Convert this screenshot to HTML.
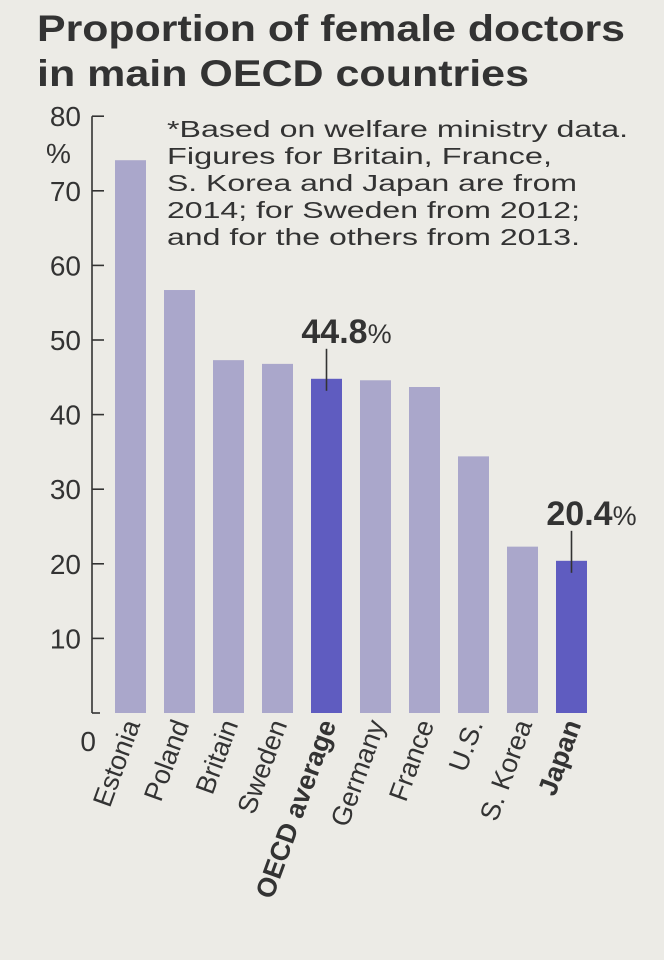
<!DOCTYPE html>
<html><head><meta charset="utf-8"><style>
html,body{margin:0;padding:0;background:#ecebe6;}
svg{display:block;font-family:"Liberation Sans",Arial,sans-serif;}
</style></head><body>
<svg id="chart" width="664" height="960" viewBox="0 0 664 960">
<rect x="0" y="0" width="664" height="960" fill="#ecebe6"/>
<text x="37" y="41" font-size="37" font-weight="bold" fill="#333" textLength="588" lengthAdjust="spacingAndGlyphs">Proportion of female doctors</text>
<text x="37" y="86" font-size="37" font-weight="bold" fill="#333" textLength="492" lengthAdjust="spacingAndGlyphs">in main OECD countries</text>
<g font-size="23" fill="#333">
<text x="167" y="137" textLength="461" lengthAdjust="spacingAndGlyphs">*Based on welfare ministry data.</text>
<text x="167" y="164" textLength="385" lengthAdjust="spacingAndGlyphs">Figures for Britain, France,</text>
<text x="167" y="191" textLength="410" lengthAdjust="spacingAndGlyphs">S. Korea and Japan are from</text>
<text x="167" y="218" textLength="413" lengthAdjust="spacingAndGlyphs">2014; for Sweden from 2012;</text>
<text x="167" y="245" textLength="413" lengthAdjust="spacingAndGlyphs">and for the others from 2013.</text>
</g>
<g id="axis"></g>
<g id="bars"></g>
<g id="labels"></g>
<g id="callouts"></g>
</svg>
<script>
const categories = ["Estonia","Poland","Britain","Sweden","OECD average","Germany","France","U.S.","S. Korea","Japan"];
const values = [74.1,56.7,47.3,46.8,44.8,44.6,43.7,34.4,22.3,20.4];
const highlighted = ["OECD average","Japan"];
const tickValues = [0,10,20,30,40,50,60,70,80];
const calloutLabels = {"OECD average":"44.8","Japan":"20.4"};

const NS="http://www.w3.org/2000/svg";
const y0=713, pxPer=7.46, xStart=115, step=49, bw=31;
const yScale=v=>y0-v*pxPer;
const xScale=i=>xStart+i*step;
function mk(tag,attrs,parent){const e=document.createElementNS(NS,tag);for(const k in attrs)e.setAttribute(k,attrs[k]);parent.appendChild(e);return e;}

const axis=document.getElementById('axis');
let ln=mk('line',{x1:92,y1:yScale(80),x2:92,y2:y0,stroke:'#333','stroke-width':1.6},axis);


ln=mk('line',{x1:92,y1:y0,x2:100,y2:y0,stroke:'#333','stroke-width':1.6},axis);


tickValues.forEach(v=>{
  if(v>0){
    const t=mk('line',{x1:92,y1:yScale(v),x2:104,y2:yScale(v),stroke:'#333','stroke-width':1.6},axis);
    
    
  }
  const lbl=mk('text',{x:v===0?96:81,y:(v===0?yScale(v)+38:yScale(v)+10),'font-size':28,fill:'#333','text-anchor':'end'},axis);
  lbl.textContent=String(v);
  
  
});
const pct=mk('text',{x:46,y:yScale(80)+47,'font-size':28,fill:'#333'},axis);
pct.textContent='%';



const bars=document.getElementById('bars'), labels=document.getElementById('labels'), callouts=document.getElementById('callouts');
categories.forEach((c,i)=>{
  const hi=highlighted.includes(c);
  const r=mk('rect',{x:xScale(i),y:yScale(values[i]),width:bw,height:y0-yScale(values[i]),fill:hi?'#5f5cc0':'#aaa7cb'},bars);
  
  
  const cx=xScale(i)+bw/2+10, cy=724;
  const t=mk('text',{x:cx,y:cy,'font-size':27,fill:'#333','text-anchor':'end','font-weight':hi?'bold':'normal',transform:`rotate(-70 ${cx} ${cy})`},labels);
  t.textContent=c;
  
  
  if(calloutLabels[c]){
    const mx=xScale(i)+bw/2, top=yScale(values[i]);
    const l=mk('line',{x1:mx,y1:top+12,x2:mx,y2:top-30,stroke:'#333','stroke-width':1.6},callouts);
    
    
    const ct=mk('text',{x:mx+20,y:top-36,'font-size':34,'font-weight':'bold',fill:'#333','text-anchor':'middle'},callouts);
    ct.textContent=calloutLabels[c];
    const sp=mk('tspan',{'font-size':27,'font-weight':'normal'},ct);
    sp.textContent='%';
    
    
  }
});
</script>
</body></html>
